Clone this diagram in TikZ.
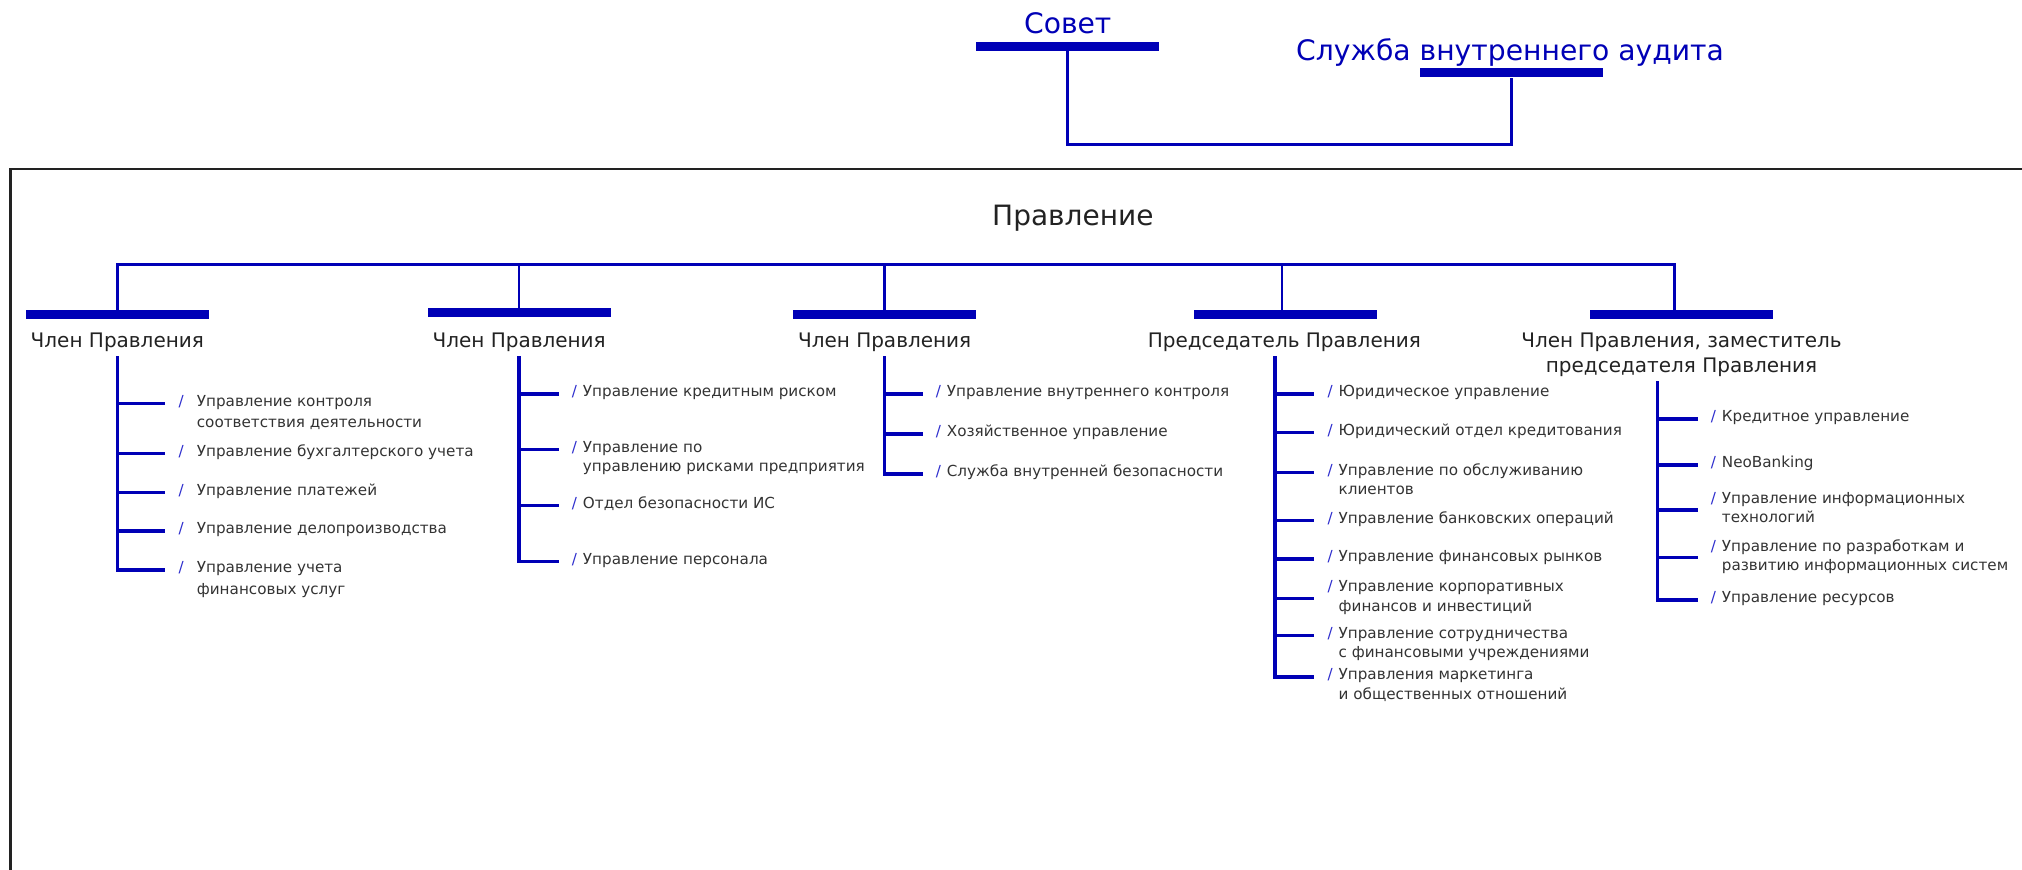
\documentclass[tikz,border=0pt]{standalone}
\usepackage{fontspec}
\setmainfont{DejaVu Sans}
\usepackage{tikz}
\definecolor{orgblue}{RGB}{0,0,182}
\definecolor{slashblue}{RGB}{45,45,205}
\definecolor{textgray}{RGB}{51,51,51}
\definecolor{darkgray}{RGB}{34,34,34}
\newlength{\slashgap}
\setlength{\slashgap}{6pt}
\newcommand{\dpt}[2][t]{\begin{tabular}[#1]{@{}l@{}}\llap{\textcolor{slashblue}{/}\hspace{\slashgap}}#2\end{tabular}}
\tikzset{
    every node/.style={inner sep=0pt},
    link/.style={draw=orgblue, line width=2.6pt},
    trunk/.style={draw=orgblue, line width=3.4pt},
    bar/.style={rectangle, fill=orgblue, minimum width=183pt, minimum height=9pt},
    head/.style={anchor=base, text=orgblue, font=\fontsize{28.2}{34}\selectfont},
    member/.style={anchor=north, align=center, text=darkgray, font=\fontsize{20}{25}\selectfont},
    dept/.style={anchor=mid west, inner xsep=24pt, text=textgray, font=\fontsize{15.2}{19.5}\selectfont},
    widedept/.style={dept, inner xsep=31.6pt, font=\fontsize{15.2}{21.5}\selectfont,
        execute at begin node={\setlength{\slashgap}{13pt}}}
}

\begin{document}
\begin{tikzpicture}[x=1.2895pt, y=-1.2895pt]
    \useasboundingbox (0,0) rectangle (1568,674);
    \draw[draw=darkgray, line width=2.5pt] (8,700) -- (8,131) -- (1600,131);

    % council and audit
    \node[head] (sovett) at (828,25.8) {Совет};
    \node[bar] (sovet) at (828,36) {};
    \node[head] (auditt) at (1171,47.3) {Служба внутреннего аудита};
    \node[bar] (audit) at (1172,56.5) {};
    \coordinate (join) at (1172,112);
    \draw[link] (sovet.south) |- (join) -- (audit.south);

    % board
    \node[head, text=darkgray, font=\fontsize{28}{34}\selectfont] (board) at (832,175) {Правление};
    \coordinate (bus) at (832,205);

    \node[bar] (b1) at (91,244) {};
    \node[bar] (b2) at (402.6,242.5) {};
    \node[bar] (b3) at (686,244) {};
    \node[bar] (b4) at (996.5,244) {};
    \node[bar] (b5) at (1304,244) {};

    \draw[link] (b1.north) |- (bus) -| ([xshift=-7pt]b5.north);
    \draw[link] (b2.north) -- (b2.north |- bus);
    \draw[link] (b3.north) -- (b3.north |- bus);
    \draw[link] ([xshift=-3pt]b4.north) -- ([xshift=-3pt]b4.north |- bus);

    \node[member] (n1) at (91,258.3) {Член Правления};
    \node[member] (n2) at (402.6,258.3) {Член Правления};
    \node[member] (n3) at (686,258.3) {Член Правления};
    \node[member] (n4) at (996,258.3) {Председатель Правления};
    \node[member] (n5) at (1304,258.3) {Член Правления, заместитель\\председателя Правления};

    \coordinate (t1) at ([yshift=-4pt]n1.south);
    \coordinate (t2) at ([yshift=-4pt]n2.south);
    \coordinate (t3) at ([yshift=-4pt]n3.south);
    \coordinate (t4) at ([xshift=-9.4pt, yshift=-4pt]n4.south);
    \coordinate (t5) at ([xshift=-24pt, yshift=-4pt]n5.south);

    % first member
    \node[widedept] (d11) at (128,312.8) {\dpt{Управление контроля\\соответствия деятельности}};
    \node[widedept] (d12) at (128,351.6) {\dpt{Управление бухгалтерского учета}};
    \node[widedept] (d13) at (128,382) {\dpt{Управление платежей}};
    \node[widedept] (d14) at (128,411.8) {\dpt{Управление делопроизводства}};
    \node[widedept] (d15) at (128,442) {\dpt{Управление учета\\финансовых услуг}};
    \draw[trunk] (t1) |- (d15.mid west);
    \draw[trunk] (t1 |- d11.mid west) -- (d11.mid west);
    \draw[trunk] (t1 |- d12.mid west) -- (d12.mid west);
    \draw[trunk] (t1 |- d13.mid west) -- (d13.mid west);
    \draw[trunk] (t1 |- d14.mid west) -- (d14.mid west);

    % second member
    \node[dept] (d21) at (433.3,305.5) {\dpt{Управление кредитным риском}};
    \node[dept] (d22) at (433.3,348.4) {\dpt{Управление по\\управлению рисками предприятия}};
    \node[dept] (d23) at (433.3,391.9) {\dpt{Отдел безопасности ИС}};
    \node[dept] (d24) at (433.3,435.3) {\dpt{Управление персонала}};
    \draw[trunk] (t2) |- (d24.mid west);
    \draw[trunk] (t2 |- d21.mid west) -- (d21.mid west);
    \draw[trunk] (t2 |- d22.mid west) -- (d22.mid west);
    \draw[trunk] (t2 |- d23.mid west) -- (d23.mid west);

    % third member
    \node[dept] (d31) at (715.5,305.5) {\dpt{Управление внутреннего контроля}};
    \node[dept] (d32) at (715.5,336.6) {\dpt{Хозяйственное управление}};
    \node[dept] (d33) at (715.5,367.6) {\dpt{Служба внутренней безопасности}};
    \draw[trunk] (t3) |- (d33.mid west);
    \draw[trunk] (t3 |- d31.mid west) -- (d31.mid west);
    \draw[trunk] (t3 |- d32.mid west) -- (d32.mid west);

    % chairman
    \node[dept] (d41) at (1019.3,305.5) {\dpt{Юридическое управление}};
    \node[dept] (d42) at (1019.3,335.5) {\dpt{Юридический отдел кредитования}};
    \node[dept] (d43) at (1019.3,366.3) {\dpt{Управление по обслуживанию\\клиентов}};
    \node[dept] (d44) at (1019.3,403.5) {\dpt{Управление банковских операций}};
    \node[dept] (d45) at (1019.3,433.5) {\dpt{Управление финансовых рынков}};
    \node[dept] (d46) at (1019.3,464) {\dpt[c]{Управление корпоративных\\финансов и инвестиций}};
    \node[dept] (d47) at (1019.3,493) {\dpt{Управление сотрудничества\\с финансовыми учреждениями}};
    \node[dept] (d48) at (1019.3,525) {\dpt{Управления маркетинга\\и общественных отношений}};
    \draw[trunk] (t4) |- (d48.mid west);
    \draw[trunk] (t4 |- d41.mid west) -- (d41.mid west);
    \draw[trunk] (t4 |- d42.mid west) -- (d42.mid west);
    \draw[trunk] (t4 |- d43.mid west) -- (d43.mid west);
    \draw[trunk] (t4 |- d44.mid west) -- (d44.mid west);
    \draw[trunk] (t4 |- d45.mid west) -- (d45.mid west);
    \draw[trunk] (t4 |- d46.mid west) -- (d46.mid west);
    \draw[trunk] (t4 |- d47.mid west) -- (d47.mid west);

    % deputy chairman
    \node[dept] (d51) at (1316.5,325) {\dpt{Кредитное управление}};
    \node[dept] (d52) at (1316.5,360.6) {\dpt{NeoBanking}};
    \node[dept] (d53) at (1316.5,395.5) {\dpt[c]{Управление информационных\\технологий}};
    \node[dept] (d54) at (1316.5,432.5) {\dpt[c]{Управление по разработкам и\\развитию информационных систем}};
    \node[dept] (d55) at (1316.5,465.3) {\dpt{Управление ресурсов}};
    \draw[trunk] (t5) |- (d55.mid west);
    \draw[trunk] (t5 |- d51.mid west) -- (d51.mid west);
    \draw[trunk] (t5 |- d52.mid west) -- (d52.mid west);
    \draw[trunk] (t5 |- d53.mid west) -- (d53.mid west);
    \draw[trunk] (t5 |- d54.mid west) -- (d54.mid west);
\end{tikzpicture}
\end{document}
